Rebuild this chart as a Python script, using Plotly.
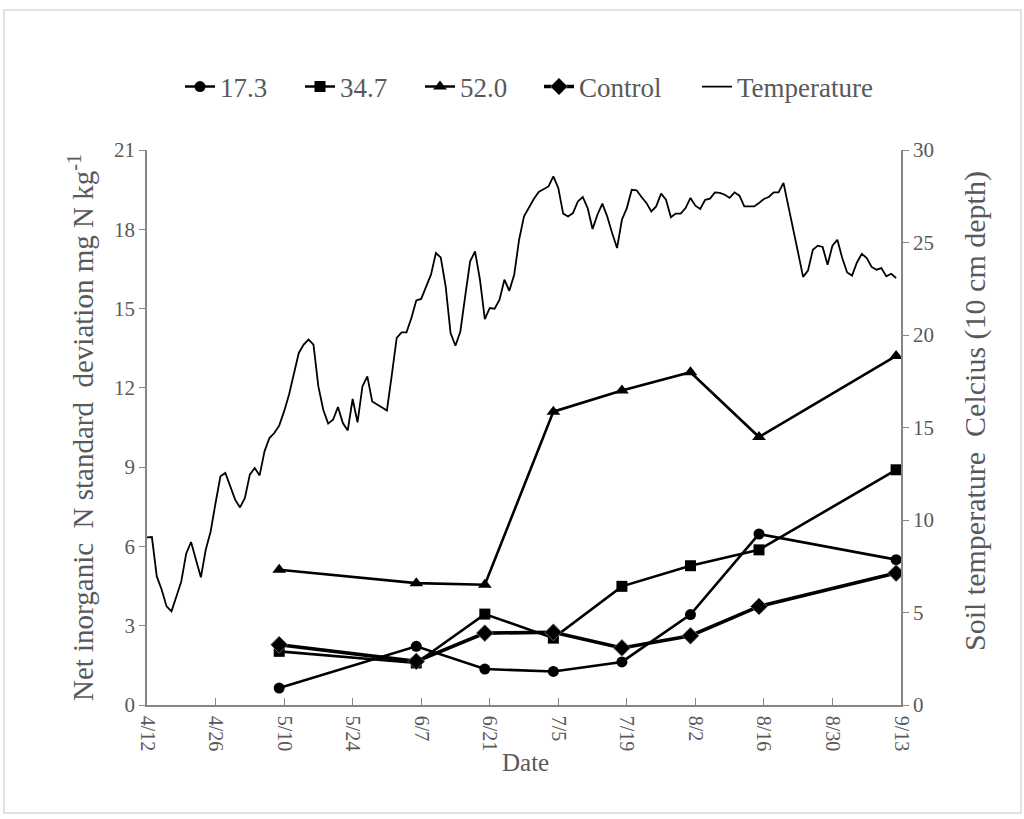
import pandas as pd
import plotly.graph_objects as go

# Sampling dates for net inorganic N (standard deviation)
sample_dates = ["2015-05-09", "2015-06-06", "2015-06-20", "2015-07-04",
                "2015-07-18", "2015-08-01", "2015-08-15", "2015-09-12"]
n_17_3 = [0.64, 2.22, 1.36, 1.27, 1.63, 3.42, 6.47, 5.50]
n_34_7 = [2.03, 1.59, 3.44, 2.53, 4.49, 5.27, 5.87, 8.90]
n_52_0 = [5.12, 4.61, 4.55, 11.10, 11.90, 12.59, 10.14, 13.21]
n_control = [2.28, 1.65, 2.72, 2.75, 2.16, 2.62, 3.73, 4.99]

# Daily soil temperature at 10 cm, starting 4/12
temp_start = "2015-04-12"
soil_temp = [
    9.06, 9.08, 6.95, 6.23, 5.33, 5.06, 5.87, 6.68, 8.18, 8.81,
    7.85, 6.90, 8.39, 9.38, 10.92, 12.36, 12.54, 11.82, 11.10, 10.68,
    11.19, 12.45, 12.81, 12.41, 13.71, 14.43, 14.70, 15.10, 15.87, 16.77,
    17.85, 19.03, 19.48, 19.75, 19.48, 17.22, 15.96, 15.21, 15.42, 16.11,
    15.24, 14.84, 16.54, 15.28, 17.22, 17.76, 16.41, 16.25, 16.09, 15.92,
    17.85, 19.84, 20.14, 20.14, 20.92, 21.87, 21.95, 22.63, 23.26, 24.43,
    24.19, 22.63, 20.11, 19.42, 20.19, 22.12, 23.98, 24.52, 22.99, 20.86,
    21.46, 21.42, 21.91, 22.99, 22.39, 23.26, 25.15, 26.41, 26.91, 27.35,
    27.73, 27.89, 28.03, 28.57, 27.95, 26.56, 26.41, 26.59, 27.22, 27.46,
    26.86, 25.73, 26.50, 27.10, 26.41, 25.51, 24.70, 26.23, 26.86, 27.85,
    27.82, 27.46, 27.14, 26.68, 26.95, 27.64, 27.31, 26.36, 26.56, 26.56,
    26.86, 27.41, 26.99, 26.81, 27.31, 27.37, 27.71, 27.68, 27.58, 27.41,
    27.71, 27.53, 26.95, 26.95, 26.95, 27.14, 27.35, 27.46, 27.71, 27.71,
    28.22, 26.95, 25.78, 24.43, 23.14, 23.48, 24.61, 24.83, 24.76, 23.80,
    24.83, 25.15, 24.16, 23.38, 23.21, 23.92, 24.39, 24.16, 23.68, 23.53,
    23.62, 23.17, 23.31, 23.08,
]
temp_dates = pd.date_range(temp_start, periods=len(soil_temp), freq="D")

FONT = "Liberation Serif, Times New Roman, serif"
TXT = "#595959"
AX = "#868686"

W, H = 1024, 819
L, R, T, B = 147, 123, 150, 114
pw, ph = W - L - R, H - T - B


def px_x(p):
    return (p - L) / pw


def px_y(p):
    return (H - B - p) / ph


fig = go.Figure()

line_w = 2.6
fig.add_trace(go.Scatter(x=sample_dates, y=n_17_3, name="17.3", mode="lines+markers",
                         legend="legend",
                         line=dict(color="black", width=line_w),
                         marker=dict(symbol="circle", size=11, color="black")))
fig.add_trace(go.Scatter(x=sample_dates, y=n_34_7, name="34.7", mode="lines+markers",
                         legend="legend2",
                         line=dict(color="black", width=line_w),
                         marker=dict(symbol="square", size=11, color="black")))
fig.add_trace(go.Scatter(x=sample_dates, y=n_52_0, name="52.0", mode="lines+markers",
                         legend="legend3",
                         line=dict(color="black", width=line_w),
                         marker=dict(symbol="triangle-up", size=12, color="black")))
fig.add_trace(go.Scatter(x=sample_dates, y=n_control, name="Control", mode="lines+markers",
                         legend="legend4",
                         line=dict(color="black", width=3.6),
                         marker=dict(symbol="diamond", size=13, color="black",
                                     line=dict(color="#777777", width=0.8))))
fig.add_trace(go.Scatter(x=temp_dates, y=soil_temp, name="Temperature", mode="lines",
                         legend="legend5",
                         yaxis="y2", line=dict(color="black", width=1.8)))

# outer frame around the whole chart
fig.add_shape(type="rect", xref="paper", yref="paper",
              x0=px_x(4), x1=px_x(1021), y0=px_y(813), y1=px_y(10),
              line=dict(color="#d9d9d9", width=1.5), layer="below")

# one legend box per entry so the row spacing can be set freely
legend_text_x = [220, 340, 460, 579, 737]
legend_style = dict(font=dict(family=FONT, size=27, color=TXT),
                    bgcolor="rgba(0,0,0,0)", borderwidth=0,
                    itemwidth=30, orientation="h", yanchor="middle", xanchor="left")
legends = {}
for i, tx in enumerate(legend_text_x):
    key = "legend" if i == 0 else f"legend{i + 1}"
    legends[key] = dict(x=px_x(tx - 40), y=px_y(87), **legend_style)

# axis titles placed as annotations for finer control over their position
titles = [
    dict(text="Date", x=px_x(525), y=px_y(762), textangle=0, size=25),
    dict(text="Soil temperature\u00a0 Celcius (10 cm depth)", x=px_x(975), y=px_y(411),
         textangle=-90, size=30),
]
annotations = [
    dict(text=t["text"], x=t["x"], y=t["y"], xref="paper", yref="paper",
         xanchor="center", yanchor="middle", showarrow=False, textangle=t["textangle"],
         font=dict(family=FONT, size=t["size"], color=TXT))
    for t in titles
]

fig.update_layout(
    width=W, height=H,
    margin=dict(l=L, r=R, t=T, b=B, pad=0),
    paper_bgcolor="white", plot_bgcolor="white",
    font=dict(family=FONT, color=TXT, size=22),
    showlegend=True,
    annotations=annotations,
    xaxis=dict(
        type="date",
        range=["2015-04-12", "2015-09-13"],
        tick0="2015-04-12", dtick=14 * 86400000,
        tickformat="%-m/%-d", tickangle=90,
        ticks="inside", ticklen=7, tickcolor=AX,
        showline=True, linecolor=AX, linewidth=1.5,
        showgrid=False, zeroline=False,
        ticklabelstandoff=5,
        tickfont=dict(family=FONT, size=20, color=TXT),
    ),
    yaxis=dict(
        range=[0, 21], dtick=3,
        ticks="outside", ticklen=6, tickcolor=AX,
        showline=True, linecolor=AX, linewidth=1.5,
        showgrid=False, zeroline=False,
        tickfont=dict(family=FONT, size=21, color=TXT),
        title=dict(text="Net inorganic\u00a0 N standard\u00a0 deviation mg N kg<sup>-1</sup>",
                   font=dict(family=FONT, size=29, color=TXT), standoff=12),
    ),
    yaxis2=dict(
        range=[0, 30], dtick=5, overlaying="y", side="right",
        ticks="outside", ticklen=6, tickcolor=AX,
        showline=True, linecolor=AX, linewidth=1.5,
        showgrid=False, zeroline=False,
        tickfont=dict(family=FONT, size=21, color=TXT),
    ),
    **legends,
)

fig.write_html("out.html")
